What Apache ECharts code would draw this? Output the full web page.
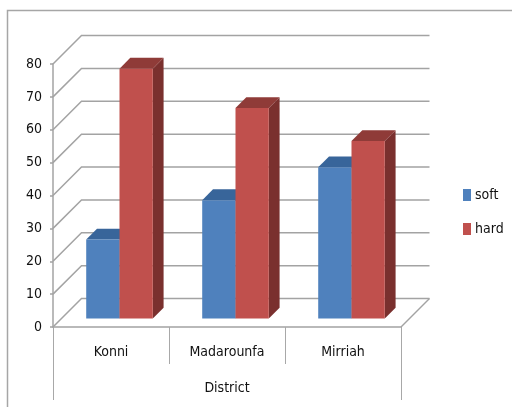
<!DOCTYPE html>
<html>
<head>
<meta charset="utf-8">
<style>html,body{margin:0;padding:0;background:#fff}#chart{width:512px;height:407px}</style>
<script src="https://cdn.jsdelivr.net/npm/echarts@6/dist/echarts.min.js"></script>
</head>
<body>
<div id="chart"></div>
<script>
// Hardness of water by district
const districts = ['Konni', 'Madarounfa', 'Mirriah'];
const groupLabel = ['District'];
const soft = [24, 36, 46];
const hard = [76, 64, 54];
const yTicks = [0, 10, 20, 30, 40, 50, 60, 70, 80];

const FONT = '"DejaVu Sans Condensed", Lato, sans-serif';
const FONT_SIZE = 14;
const TEXT_COLOR = '#111111';
const GRID_GREY = '#a3a3a3';
const WALL_DEPTH = 28.5;   // oblique offset of the back wall
const BAR_SHIFT = 8.5;     // bars stand this far behind the front edge
const BAR_DEPTH = 10.8;    // oblique depth of each bar
const BAR_RATIO = 0.287;   // bar width as a share of the category band

// Back wall and floor lines, drawn once per tick value
function renderWall(params, api) {
  const value = api.value(0);
  const cs = params.coordSys;
  const y = api.coord([0, value])[1];
  const left = cs.x, right = cs.x + cs.width, d = WALL_DEPTH;
  const style = { stroke: GRID_GREY, lineWidth: 1.5, fill: 'none' };
  const children = [{
    type: 'polyline',
    shape: { points: [[left, y], [left + d, y - d], [right + d, y - d]] },
    style
  }];
  if (value === 0) {
    children.push({
      type: 'line',
      shape: { x1: right, y1: y, x2: right + d, y2: y - d },
      style
    });
  }
  return { type: 'group', children };
}

// One oblique box: front face, top face and right side face
function boxRenderer(seriesIndex, front, top, side) {
  return function (params, api) {
    const band = api.size([1, 0])[0];
    const w = band * BAR_RATIO;
    const pTop = api.coord([api.value(0), api.value(1)]);
    const pBase = api.coord([api.value(0), 0]);
    const x0 = pBase[0] + BAR_SHIFT + (seriesIndex === 0 ? -w : 0);
    const x1 = x0 + w;
    const yT = pTop[1] - BAR_SHIFT;
    const yB = pBase[1] - BAR_SHIFT;
    const d = BAR_DEPTH;
    return {
      type: 'group',
      children: [
        { type: 'polygon', shape: { points: [[x1, yT], [x1 + d, yT - d], [x1 + d, yB - d], [x1, yB]] }, style: { fill: side } },
        { type: 'polygon', shape: { points: [[x0, yT], [x0 + d, yT - d], [x1 + d, yT - d], [x1, yT]] }, style: { fill: top } },
        { type: 'rect', shape: { x: x0, y: yT, width: w, height: yB - yT }, style: { fill: front } }
      ]
    };
  };
}

const chart = echarts.init(document.getElementById('chart'), null, { renderer: 'canvas' });
chart.setOption({
  animation: false,
  backgroundColor: '#ffffff',
  textStyle: { fontFamily: FONT },
  graphic: [{
    type: 'rect',
    silent: true,
    z: -1,
    shape: { x: 7.5, y: 10.5, width: 520, height: 420 },
    style: { fill: 'none', stroke: '#a6a6a6', lineWidth: 1.5 }
  }],
  legend: {
    orient: 'vertical',
    left: 458,
    top: 183,
    itemWidth: 8,
    itemHeight: 12,
    itemGap: 20,
    icon: 'rect',
    data: ['soft', 'hard'],
    textStyle: { fontFamily: FONT, fontSize: FONT_SIZE, color: TEXT_COLOR, padding: [0, 0, 0, -1] }
  },
  grid: { left: 53, top: 64, width: 348, height: 263, containLabel: false },
  xAxis: [{
    type: 'category',
    data: districts,
    position: 'bottom',
    axisLine: { lineStyle: { color: GRID_GREY, width: 1.5 } },
    axisTick: { show: true, length: 37, alignWithLabel: false, lineStyle: { color: '#a8a8a8', width: 1 } },
    axisLabel: { color: TEXT_COLOR, fontSize: FONT_SIZE, margin: 18, fontFamily: FONT }
  }, {
    type: 'category',
    data: groupLabel,
    position: 'bottom',
    axisLine: { show: false },
    axisTick: { show: true, length: 73, lineStyle: { color: '#a8a8a8', width: 1 } },
    axisLabel: { color: TEXT_COLOR, fontSize: FONT_SIZE, margin: 54, fontFamily: FONT }
  }],
  yAxis: {
    type: 'value',
    min: 0,
    max: 80,
    interval: 10,
    splitLine: { show: false },
    axisLine: { show: true, lineStyle: { color: GRID_GREY, width: 1.5 } },
    axisTick: { show: true, length: 3, lineStyle: { color: GRID_GREY, width: 1.5 } },
    axisLabel: { color: TEXT_COLOR, fontSize: FONT_SIZE, margin: 11, fontFamily: FONT }
  },
  series: [{
    type: 'custom',
    name: 'wall',
    silent: true,
    z: 1,
    clip: false,
    data: yTicks.map(v => [v]),
    encode: { y: 0 },
    renderItem: renderWall
  }, {
    type: 'custom',
    name: 'soft',
    z: 2,
    clip: false,
    itemStyle: { color: '#4f81bd' },
    data: soft.map((v, i) => [i, v]),
    encode: { x: 0, y: 1 },
    renderItem: boxRenderer(0, '#4f81bd', '#38659a', '#2f5a8c')
  }, {
    type: 'custom',
    name: 'hard',
    z: 3,
    clip: false,
    itemStyle: { color: '#c0504d' },
    data: hard.map((v, i) => [i, v]),
    encode: { x: 0, y: 1 },
    renderItem: boxRenderer(1, '#c0504d', '#8f3b38', '#7a302e')
  }]
});
</script>
</body>
</html>
